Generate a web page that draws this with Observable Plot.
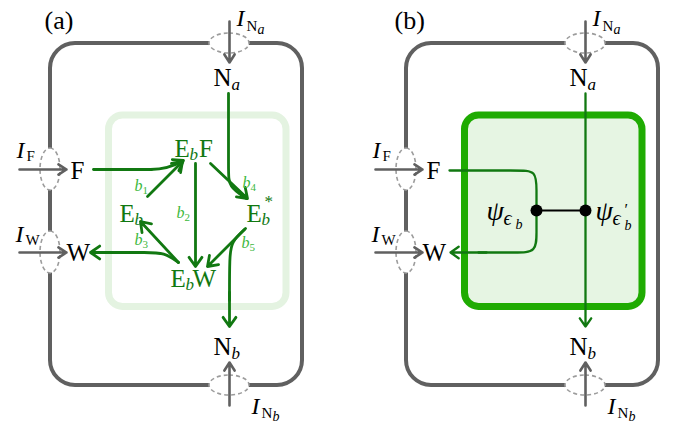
<!DOCTYPE html>
<html><head><meta charset="utf-8">
<script src="https://cdn.jsdelivr.net/npm/d3@7"></script>
<script src="https://cdn.jsdelivr.net/npm/@observablehq/plot@0.6"></script>
<style>html,body{margin:0;padding:0;background:#fff}svg{display:block}</style>
</head><body><div id="chart"></div>
<script>
const FONT = "'Liberation Serif','DejaVu Serif',serif";
const GREY = "#606060", DASH = "#9c9c9c", DKGREEN = "#117811", LTGREEN = "#3cb83c";
const DX = 356; // horizontal shift of panel (b) relative to panel (a)

// cell frame (panel a), ports (ellipse centres) and port arrows
const frames = [[50, 302, 43, 385]];
const portsH = [[229, 43], [229, 385]];
const portsV = [[50, 169], [50, 252]];
const portArrows = [[229, 21, 229, 62], [229, 405, 229, 362], [19, 169, 66, 169], [19, 252, 66, 252]];
// enzyme boxes
const boxA = [[108.5, 286, 115, 306.5]];
const boxB = [[464.5, 642, 115, 306.5]];

// texts: [text, x, baseline y, size, italic]
const panelTags = [["(a)", 44, 28, 26, 0], ["(b)", 394, 28, 26, 0]];
const frameTexts = [
  ["I", 236, 25, 24, 1], ["N", 246, 30, 15, 0], ["a", 257, 33, 14, 1],
  ["N", 213, 85, 25, 0], ["a", 231, 89, 17, 1],
  ["N", 213, 354, 25, 0], ["b", 231, 358, 17, 1],
  ["I", 251, 413, 24, 1], ["N", 261, 417, 15, 0], ["b", 272, 420, 14, 1],
  ["I", 16, 157, 24, 1], ["F", 26, 160, 15, 0],
  ["F", 70, 178, 25, 0],
  ["I", 15, 241, 24, 1], ["W", 25, 244, 15, 0],
  ["W", 66, 260, 25, 0]
];
const speciesTexts = [
  ["E", 174, 156, 25, 0], ["b", 189, 159, 17, 1], ["F", 198.5, 156, 25, 0],
  ["E", 119, 221, 25, 0], ["b", 134, 224, 17, 1],
  ["E", 246, 221, 25, 0], ["b", 261, 224, 17, 1], ["*", 264, 206, 17, 0],
  ["E", 170, 286, 25, 0], ["b", 185, 289, 17, 1], ["W", 192, 286, 25, 0]
];
const rateTexts = [
  ["b", 134, 190, 16, 1], ["1", 142, 193, 11, 0],
  ["b", 176, 217, 16, 1], ["2", 184, 220, 11, 0],
  ["b", 134, 244, 16, 1], ["3", 142, 247, 11, 0],
  ["b", 242, 187, 16, 1], ["4", 250, 190, 11, 0],
  ["b", 241, 247, 16, 1], ["5", 249, 250, 11, 0]
];
const psiTexts = [
  ["ψ", 486, 219, 28, 1], ["ϵ", 503, 224, 20, 1], ["b", 515, 228, 14, 1],
  ["ψ", 595, 219, 28, 1], ["ϵ", 612, 224, 20, 1], ["′", 624, 214, 16, 0], ["b", 624, 229, 14, 1]
];

// panel (a) reaction network
const rateArrows = [[147, 196, 182, 161], [195, 163, 195, 266], [210, 163, 247, 198], [178, 262, 140, 221], [245, 228, 207, 266]];
const outArrowsA = [[128, 252, 90, 252], [229, 292, 229, 326]];
const inLineF = [[93, 169], [151, 169]];
const inArcF = [[150, 169, 183, 160]];
const curveNa = [[228, 93], [228, 172], [228, 186], [246, 198]];
const curveW = [[178, 262], [164, 252], [145, 252], [118, 252]];
const curveNb = [[244, 229], [231, 241], [229, 256], [229, 300]];

// panel (b) coarse-grained element
const arrowsB = [[585, 93, 585, 326], [486, 252, 450, 252]];
const curveFB = [[449, 170], [518, 170], [536, 170], [536, 190], [536, 210]];
const curveWB = [[536, 210], [536, 232], [536, 252], [516, 252], [478, 252]];
const linkB = [[536, 210], [585, 210]];
const nodesB = [[536, 210], [585, 210]];

const shift = (rows) => rows.map(r => [r[0], r[1] + DX, ...r.slice(2)]);
const allFrames = [...frames, ...frames.map(([a, b, c, d]) => [a + DX, b + DX, c, d])];
const allPortsH = [...portsH, ...portsH.map(([x, y]) => [x + DX, y])];
const allPortsV = [...portsV, ...portsV.map(([x, y]) => [x + DX, y])];
const allPortArrows = [...portArrows, ...portArrows.map(([a, b, c, d]) => [a + DX, b, c + DX, d])];
const allFrameTexts = [...frameTexts, ...shift(frameTexts)];

const P = (d) => d[0], Q = (d) => d[1];
function texts(rows, color) {
  const objs = rows.map(([t, x, y, s, it]) => ({t, x, y, s, it}));
  return [0, 1].map(it => Plot.text(objs.filter(d => d.it === it), {
    x: "x", y: "y", text: "t", fontSize: "s", fill: color,
    fontStyle: it ? "italic" : "normal", textAnchor: "start", lineAnchor: "bottom", fontFamily: FONT
  }));
}
const arrowOpts = (stroke, sw, extra = {}) => ({
  x1: d => d[0], y1: d => d[1], x2: d => d[2], y2: d => d[3],
  stroke, strokeWidth: sw, headLength: 6, headAngle: 70, ...extra
});
const rectOpts = (extra) => ({x1: d => d[0], x2: d => d[1], y1: d => d[2], y2: d => d[3], ...extra});

const chart = Plot.plot({
  width: 677, height: 424, margin: 0,
  x: {domain: [0, 677], range: [0, 677], axis: null},
  y: {domain: [0, 424], range: [0, 424], axis: null},
  style: {background: "white", fontFamily: FONT, overflow: "visible"},
  marks: [
    Plot.rect(allFrames, rectOpts({fill: "none", stroke: GREY, strokeWidth: 4, rx: 25, ry: 25})),
    Plot.rect(allPortsH, {x1: d => d[0] - 20, x2: d => d[0] + 20, y1: d => d[1] - 10, y2: d => d[1] + 10,
      rx: 20, ry: 10, fill: "white", stroke: DASH, strokeWidth: 1.6, strokeDasharray: "4,3"}),
    Plot.rect(allPortsV, {x1: d => d[0] - 10, x2: d => d[0] + 10, y1: d => d[1] - 21, y2: d => d[1] + 21,
      rx: 10, ry: 21, fill: "white", stroke: DASH, strokeWidth: 1.6, strokeDasharray: "4,3"}),
    Plot.arrow(allPortArrows, arrowOpts(GREY, 2.6, {headLength: 5.5, headAngle: 65})),
    Plot.rect(boxA, rectOpts({fill: "none", stroke: "#e4f3e1", strokeWidth: 7, rx: 14, ry: 14})),
    Plot.rect(boxB, rectOpts({fill: "#e6f5e3", stroke: "#1fab02", strokeWidth: 7, rx: 14, ry: 14})),
    // panel (a) network
    Plot.line(inLineF, {x: P, y: Q, stroke: DKGREEN, strokeWidth: 2.8}),
    Plot.arrow(inArcF, arrowOpts(DKGREEN, 2.8, {bend: -15})),
    Plot.line(curveNa, {x: P, y: Q, curve: "basis", stroke: DKGREEN, strokeWidth: 2.8}),
    Plot.line(curveW, {x: P, y: Q, curve: "basis", stroke: DKGREEN, strokeWidth: 2.8}),
    Plot.line(curveNb, {x: P, y: Q, curve: "basis", stroke: DKGREEN, strokeWidth: 2.8}),
    Plot.arrow(rateArrows, arrowOpts(DKGREEN, 2.8)),
    Plot.arrow(outArrowsA, arrowOpts(DKGREEN, 2.8)),
    // panel (b)
    Plot.line(curveFB, {x: P, y: Q, curve: "basis", stroke: DKGREEN, strokeWidth: 2.3}),
    Plot.line(curveWB, {x: P, y: Q, curve: "basis", stroke: DKGREEN, strokeWidth: 2.3}),
    Plot.arrow(arrowsB, arrowOpts(DKGREEN, 2.3, {headLength: 6.5})),
    Plot.line(linkB, {x: P, y: Q, stroke: "black", strokeWidth: 2}),
    Plot.dot(nodesB, {x: P, y: Q, r: 6, fill: "black", stroke: "none"}),
    // texts
    ...texts(panelTags, "black"),
    ...texts(allFrameTexts, "black"),
    ...texts(speciesTexts, DKGREEN),
    ...texts(rateTexts, LTGREEN),
    ...texts(psiTexts, "black")
  ]
});
document.getElementById("chart").append(chart);
</script>
</body></html>
